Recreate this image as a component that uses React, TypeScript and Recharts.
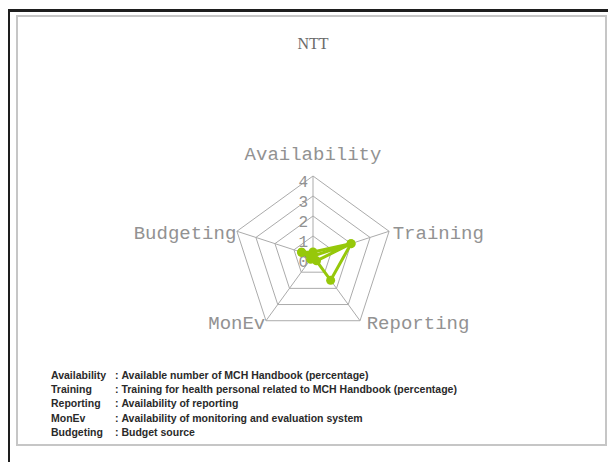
import React from 'react';
import { RadarChart, Radar, PolarGrid, PolarAngleAxis, PolarRadiusAxis } from 'recharts';

const categories = ['Availability', 'Training', 'Reporting', 'MonEv', 'Budgeting'];
const seriesA = [0.2, 2.0, 1.5, 0.0, 0.6];
const seriesB = [0.0, 2.0, 0.3, 0.2, 0.6];
const radiusTicks = [0, 1, 2, 3, 4];
const chartTitle = 'NTT';
const legendNames = ['Availability', 'Training', 'Reporting', 'MonEv', 'Budgeting'];
const legendDescriptions = [
  'Available number of MCH Handbook (percentage)',
  'Training for health personal related to MCH Handbook (percentage)',
  'Availability of reporting',
  'Availability of monitoring and evaluation system',
  'Budget source',
];

const data = categories.map((c, i) => ({ axis: c, a: seriesA[i], b: seriesB[i] }));

const labelStyle: Record<string, { dx: number; dy: number; anchor: string }> = {
  Availability: { dx: 0, dy: -8, anchor: 'middle' },
  Training: { dx: -4, dy: 10, anchor: 'start' },
  Reporting: { dx: 2, dy: 2, anchor: 'start' },
  MonEv: { dx: 4, dy: 2, anchor: 'end' },
  Budgeting: { dx: 7, dy: 10, anchor: 'end' },
};

const AngleTick = (props: any) => {
  const { x, y, payload } = props;
  const s = labelStyle[payload.value] || { dx: 0, dy: 0, anchor: 'middle' };
  return (
    <text
      x={x + s.dx}
      y={y + s.dy}
      textAnchor={s.anchor}
      fontFamily="'Liberation Mono', 'Courier New', monospace"
      fontSize={19}
      fill="#929292"
    >
      {payload.value}
    </text>
  );
};

const RadiusTick = (props: any) => {
  const { x, y, payload } = props;
  return (
    <text
      x={x - 5}
      y={y + 11}
      textAnchor="end"
      fontFamily="'Liberation Mono', 'Courier New', monospace"
      fontSize={16}
      fill="#929292"
    >
      {payload.value}
    </text>
  );
};

const GREEN = '#96c80a';

const GreenDot = (props: any) => {
  const { cx, cy } = props;
  if (cx == null || cy == null) return null;
  return <circle cx={cx} cy={cy} r={4.5} fill={GREEN} stroke="none" />;
};

export default function App() {
  return (
    <div style={{ position: 'absolute', left: 0, top: 0, width: 608, height: 462, background: '#fff', overflow: 'hidden' }}>
      <div
        style={{
          position: 'absolute',
          left: 8,
          top: 9,
          width: 620,
          height: 470,
          borderLeft: '2px solid #1e1e1e',
          borderTop: '3px solid #1e1e1e',
        }}
      />
      <div
        style={{
          position: 'absolute',
          left: 16,
          top: 15,
          width: 591,
          height: 431,
          border: '2px solid #c6c6c6',
          boxSizing: 'border-box',
        }}
      />
      <div
        style={{
          position: 'absolute',
          left: 0,
          width: 626,
          top: 35,
          textAlign: 'center',
          fontFamily: "'Liberation Serif', serif",
          fontSize: 16,
          color: '#6a6a6a',
        }}
      >
        {chartTitle}
      </div>
      <div style={{ position: 'absolute', left: 0, top: 0 }}>
        <RadarChart
          width={608}
          height={462}
          data={data}
          cx={313}
          cy={256}
          outerRadius={80}
          margin={{ top: 0, right: 0, bottom: 0, left: 0 }}
        >
          <PolarGrid gridType="polygon" stroke="#ababab" strokeWidth={1} />
          <PolarAngleAxis dataKey="axis" tick={<AngleTick />} tickLine={false} axisLine={false} />
          <PolarRadiusAxis
            angle={90}
            domain={[0, 4]}
            ticks={radiusTicks as any}
            tickCount={5}
            axisLine={false}
            tick={<RadiusTick />}
          />
          <Radar
            dataKey="b"
            stroke={GREEN}
            strokeWidth={3}
            fill="none"
            fillOpacity={0}
            dot={<GreenDot />}
            isAnimationActive={false}
          />
          <Radar
            dataKey="a"
            stroke={GREEN}
            strokeWidth={3}
            fill="none"
            fillOpacity={0}
            dot={<GreenDot />}
            isAnimationActive={false}
          />
        </RadarChart>
      </div>
      <div
        style={{
          position: 'absolute',
          left: 51,
          top: 368,
          fontFamily: "'Liberation Sans', Arial, sans-serif",
          fontSize: 10.5,
          fontWeight: 'bold',
          color: '#2a2a2a',
          lineHeight: '14.2px',
        }}
      >
        {legendNames.map((n, i) => (
          <div key={n} style={{ display: 'flex', whiteSpace: 'nowrap' }}>
            <span style={{ width: 64, display: 'inline-block' }}>{n}</span>
            <span>:&nbsp;{legendDescriptions[i]}</span>
          </div>
        ))}
      </div>
    </div>
  );
}
